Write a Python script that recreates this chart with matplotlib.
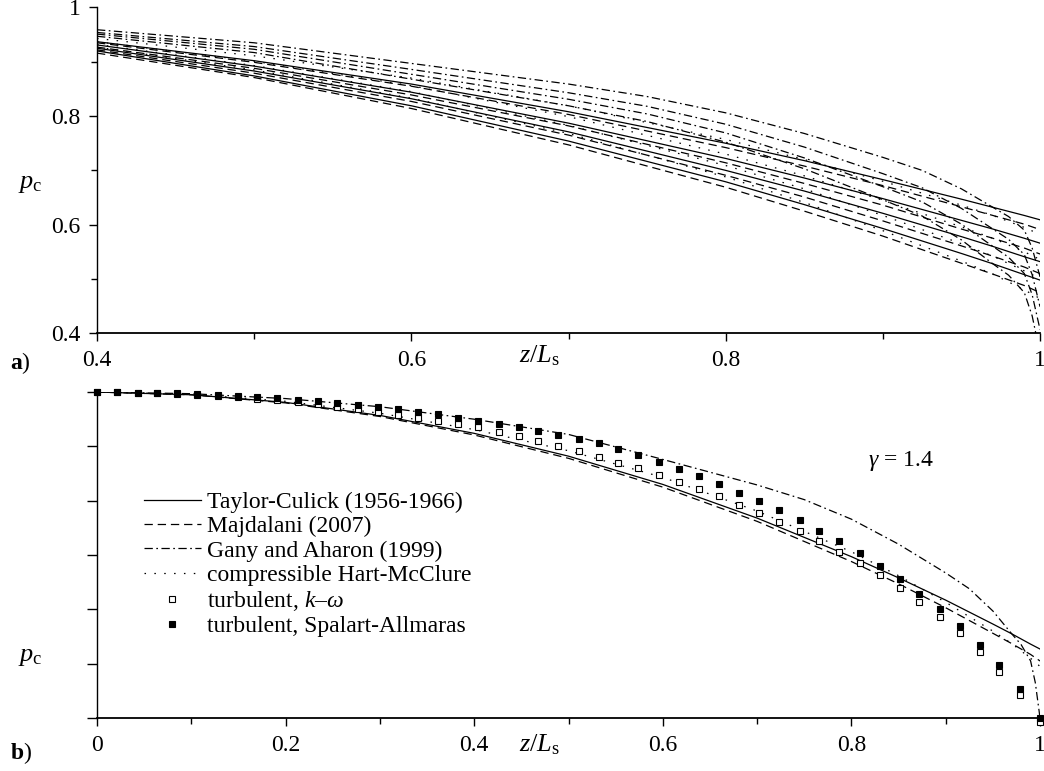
import numpy as np
import matplotlib
matplotlib.use("Agg")
import matplotlib.pyplot as plt
from matplotlib.ticker import MultipleLocator, FuncFormatter

plt.rcParams["font.family"] = ["Liberation Serif", "DejaVu Serif"]
plt.rcParams["mathtext.fontset"] = "custom"
plt.rcParams["mathtext.rm"] = "Liberation Serif"
plt.rcParams["mathtext.it"] = "Liberation Serif:italic"
plt.rcParams["mathtext.bf"] = "Liberation Serif:bold"
plt.rcParams["lines.scale_dashes"] = False

# ---- panel b data (gamma = 1.4) ----
z_b = [0.0, 0.1, 0.2, 0.3, 0.4, 0.5, 0.6, 0.7, 0.8, 0.85, 0.9, 0.95, 0.97, 0.99, 1.0]
taylor_b = [1.000, 0.995, 0.981, 0.957, 0.924, 0.882, 0.830, 0.768, 0.697, 0.658, 0.617, 0.573, 0.555, 0.536, 0.527]
majdalani_b = [1.000, 0.995, 0.980, 0.955, 0.921, 0.878, 0.825, 0.762, 0.688, 0.647, 0.603, 0.556, 0.537, 0.517, 0.505]
hart_b = [1.000, 0.996, 0.983, 0.961, 0.931, 0.892, 0.843, 0.781, 0.706, 0.662, 0.613, 0.560, 0.537, 0.510, 0.495]
z_gany_b = [0.0, 0.1, 0.2, 0.3, 0.4, 0.5, 0.6, 0.7, 0.75, 0.8, 0.85, 0.9, 0.925, 0.95,
            0.97, 0.98, 0.99, 0.995, 1.0]
gany_b = [1.000, 0.997, 0.988, 0.973, 0.950, 0.922, 0.876, 0.829, 0.802, 0.766, 0.720, 0.667, 0.638, 0.597,
          0.555, 0.535, 0.505, 0.465, 0.400]

z_cfd = [0.000, 0.021, 0.043, 0.064, 0.085, 0.106, 0.128, 0.149, 0.170, 0.191,
         0.213, 0.234, 0.255, 0.277, 0.298, 0.319, 0.340, 0.362, 0.383, 0.404,
         0.426, 0.447, 0.468, 0.489, 0.511, 0.532, 0.553, 0.574, 0.596, 0.617,
         0.638, 0.660, 0.681, 0.702, 0.723, 0.745, 0.766, 0.787, 0.809, 0.830,
         0.851, 0.872, 0.894, 0.915, 0.936, 0.957, 0.979, 1.000]
kw = [1.000, 1.000, 0.999, 0.998, 0.997, 0.995, 0.993, 0.991, 0.988, 0.985,
      0.981, 0.978, 0.973, 0.969, 0.964, 0.958, 0.953, 0.947, 0.942, 0.935,
      0.926, 0.919, 0.910, 0.901, 0.892, 0.881, 0.870, 0.860, 0.847, 0.835,
      0.822, 0.809, 0.793, 0.778, 0.761, 0.745, 0.726, 0.705, 0.685, 0.663,
      0.639, 0.613, 0.586, 0.556, 0.522, 0.485, 0.443, 0.392]
sa = [1.000, 1.000, 0.999, 0.999, 0.998, 0.996, 0.995, 0.993, 0.991, 0.989,
      0.986, 0.983, 0.980, 0.976, 0.972, 0.968, 0.964, 0.959, 0.953, 0.947,
      0.941, 0.935, 0.929, 0.921, 0.914, 0.906, 0.896, 0.884, 0.872, 0.859,
      0.845, 0.831, 0.815, 0.799, 0.783, 0.764, 0.745, 0.725, 0.704, 0.680,
      0.656, 0.629, 0.601, 0.569, 0.535, 0.497, 0.453, 0.400]

# ---- panel a data (four cases, z/Ls from 0.4) ----
z_a = [0.4, 0.5, 0.6, 0.7, 0.8, 0.85, 0.9, 0.95, 0.97, 0.99, 1.0]
taylor_a = [
    [0.937, 0.902, 0.859, 0.808, 0.750, 0.718, 0.683, 0.647, 0.632, 0.617, 0.609],
    [0.931, 0.892, 0.844, 0.787, 0.722, 0.686, 0.648, 0.608, 0.592, 0.575, 0.566],
    [0.925, 0.883, 0.832, 0.771, 0.700, 0.662, 0.621, 0.578, 0.560, 0.541, 0.532],
    [0.920, 0.874, 0.819, 0.754, 0.679, 0.637, 0.593, 0.547, 0.528, 0.508, 0.498],
]
majdalani_a = [
    [0.935, 0.899, 0.855, 0.803, 0.742, 0.708, 0.672, 0.633, 0.617, 0.601, 0.591],
    [0.927, 0.888, 0.839, 0.782, 0.714, 0.676, 0.636, 0.592, 0.575, 0.557, 0.546],
    [0.922, 0.879, 0.827, 0.765, 0.691, 0.651, 0.607, 0.561, 0.542, 0.522, 0.510],
    [0.916, 0.871, 0.814, 0.747, 0.669, 0.625, 0.579, 0.529, 0.509, 0.488, 0.475],
]
hart_a = [
    [0.943, 0.911, 0.870, 0.819, 0.757, 0.720, 0.680, 0.636, 0.617, 0.595, 0.582],
    [0.937, 0.901, 0.856, 0.799, 0.730, 0.690, 0.645, 0.596, 0.575, 0.550, 0.536],
    [0.932, 0.893, 0.845, 0.783, 0.709, 0.666, 0.617, 0.565, 0.542, 0.515, 0.501],
    [0.927, 0.885, 0.833, 0.768, 0.688, 0.641, 0.589, 0.533, 0.509, 0.480, 0.464],
]
z_gany_a = [0.4, 0.5, 0.6, 0.7, 0.75, 0.8, 0.85, 0.9, 0.925, 0.95, 0.97, 0.98, 0.99, 0.995, 1.0]
gany_a = [
    [0.959, 0.935, 0.897, 0.859, 0.836, 0.806, 0.768, 0.724, 0.700, 0.666, 0.632, 0.615, 0.590, 0.557, 0.504],
    [0.954, 0.928, 0.886, 0.843, 0.818, 0.785, 0.743, 0.694, 0.668, 0.630, 0.592, 0.573, 0.545, 0.508, 0.449],
    [0.951, 0.923, 0.877, 0.831, 0.804, 0.769, 0.723, 0.670, 0.642, 0.601, 0.560, 0.540, 0.510, 0.471, 0.407],
    [0.947, 0.917, 0.868, 0.819, 0.790, 0.752, 0.703, 0.646, 0.616, 0.572, 0.528, 0.507, 0.475, 0.432, 0.363],
]

LW = 0.9
STY = {
    "taylor": dict(color="black", lw=LW, linestyle="-"),
    "majdalani": dict(color="black", lw=LW, linestyle=(0, (6, 3.5))),
    "gany": dict(color="black", lw=LW, linestyle=(0, (6, 2.5, 1.2, 2.5))),
    "hart": dict(color="black", lw=LW, linestyle=(0, (1.1, 6))),
}

fmt = FuncFormatter(lambda v, p: f"{v:g}")
FS = 17


def style_axes(ax):
    for s in ["top", "right"]:
        ax.spines[s].set_visible(False)
    ax.spines["left"].set_linewidth(1.0)
    ax.spines["bottom"].set_linewidth(1.3)
    ax.tick_params(which="major", direction="out", length=6, width=1.0, labelsize=FS, pad=6)
    ax.tick_params(which="minor", direction="out", length=4, width=1.0)


fig = plt.figure(figsize=(10.44, 7.71), dpi=100)
ax1 = fig.add_axes([0.0929, 0.5677, 0.9033, 0.4226])
ax2 = fig.add_axes([0.0929, 0.0687, 0.9033, 0.4228])

# panel a
for i in range(4):
    ax1.plot(z_a, taylor_a[i], **STY["taylor"])
    ax1.plot(z_a, majdalani_a[i], **STY["majdalani"])
    ax1.plot(z_gany_a, gany_a[i], **STY["gany"])
    ax1.plot(z_a, hart_a[i], **STY["hart"])
ax1.set_xlim(0.4, 1.0)
ax1.set_ylim(0.4, 1.0)
ax1.xaxis.set_major_locator(MultipleLocator(0.2))
ax1.xaxis.set_minor_locator(MultipleLocator(0.1))
ax1.yaxis.set_major_locator(MultipleLocator(0.2))
ax1.yaxis.set_minor_locator(MultipleLocator(0.1))
ax1.xaxis.set_major_formatter(fmt)
ax1.yaxis.set_major_formatter(fmt)
style_axes(ax1)

# panel b
ax2.plot(z_b, taylor_b, label="Taylor-Culick (1956-1966)", **STY["taylor"])
ax2.plot(z_b, majdalani_b, label="Majdalani (2007)", **STY["majdalani"])
ax2.plot(z_gany_b, gany_b, label="Gany and Aharon (1999)", **STY["gany"])
ax2.plot(z_b, hart_b, label="compressible Hart-McClure", **STY["hart"])
ax2.plot(z_cfd, kw, linestyle="none", marker="s", markersize=4.6, markerfacecolor="white",
         markeredgecolor="black", markeredgewidth=0.8, clip_on=False, zorder=3,
         label=r"turbulent, $k$–$\omega$")
ax2.plot(z_cfd, sa, linestyle="none", marker="s", markersize=4.6, markerfacecolor="black",
         markeredgecolor="black", markeredgewidth=0.8, clip_on=False, zorder=4,
         label="turbulent, Spalart-Allmaras")
ax2.set_xlim(0.0, 1.0)
ax2.set_ylim(0.4, 1.0)
ax2.xaxis.set_major_locator(MultipleLocator(0.2))
ax2.xaxis.set_minor_locator(MultipleLocator(0.1))
ax2.yaxis.set_major_locator(MultipleLocator(0.1))
ax2.xaxis.set_major_formatter(fmt)
ax2.yaxis.set_ticklabels([])
style_axes(ax2)
ax2.tick_params(axis="y", which="major", length=7)

leg = ax2.legend(loc="upper left", bbox_to_anchor=(0.05, 0.695), frameon=False, fontsize=FS,
                 handlelength=2.4, handletextpad=0.25, labelspacing=0.12, borderpad=0,
                 borderaxespad=0)
ax2.text(0.818, 0.788, r"$\gamma$ = 1.4", transform=ax2.transAxes, fontsize=FS,
         va="center", ha="left")

# axis labels and panel tags
fig.text(30 / 1044, 1 - 184 / 771, r"$p_{\rm c}$", fontsize=FS + 2, ha="center", va="center")
fig.text(30 / 1044, 1 - 657 / 771, r"$p_{\rm c}$", fontsize=FS + 2, ha="center", va="center")
fig.text(540 / 1044, 1 - 356 / 771, r"$z/L_{\rm s}$", fontsize=FS + 2, ha="center", va="center")
fig.text(540 / 1044, 1 - 745 / 771, r"$z/L_{\rm s}$", fontsize=FS + 2, ha="center", va="center")
fig.text(10 / 1044, 1 - 363 / 771, r"$\mathbf{a}$)", fontsize=FS, ha="left", va="center")
fig.text(10 / 1044, 1 - 753 / 771, r"$\mathbf{b}$)", fontsize=FS, ha="left", va="center")

fig.savefig("out.png", dpi=100)
